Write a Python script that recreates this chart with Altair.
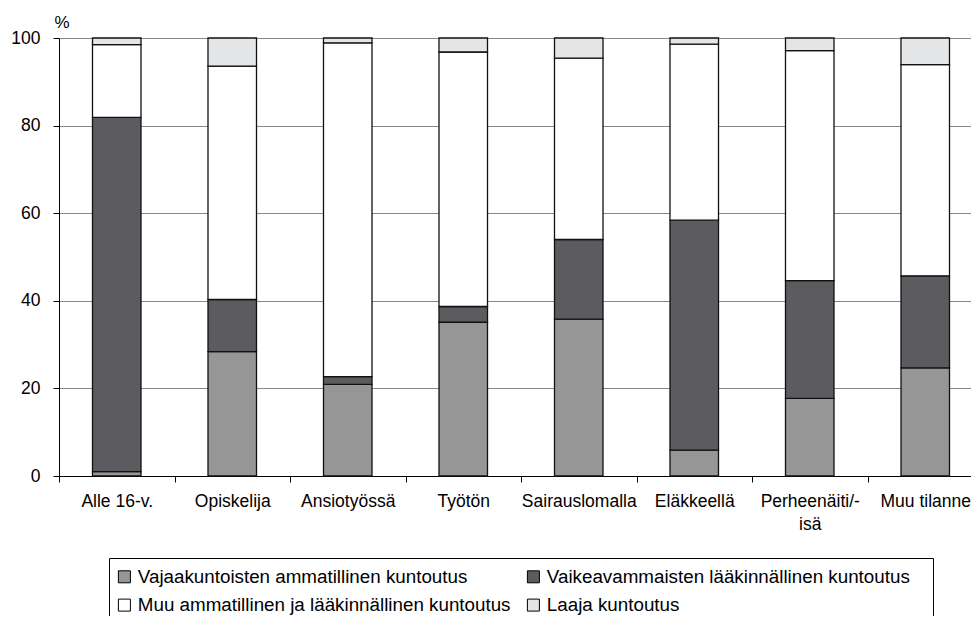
import altair as alt
import pandas as pd

categories = ["Alle 16-v.", "Opiskelija", "Ansiotyössä", "Työtön", "Sairauslomalla",
              "Eläkkeellä", "Perheenäiti/-\nisä", "Muu tilanne"]
series = ["Vajaakuntoisten ammatillinen kuntoutus",
          "Vaikeavammaisten lääkinnällinen kuntoutus",
          "Muu ammatillinen ja lääkinnällinen kuntoutus",
          "Laaja kuntoutus"]
vajaa = [1.0, 28.4, 20.9, 35.1, 35.8, 5.9, 17.7, 24.7]
vaikea = [80.9, 11.9, 1.8, 3.6, 18.2, 52.5, 26.9, 21.0]
muu = [16.6, 53.3, 76.2, 58.1, 41.4, 40.2, 52.5, 48.2]
laaja = [1.5, 6.4, 1.1, 3.2, 4.6, 1.4, 2.9, 6.1]
colors = ["#969696", "#5c5b60", "#ffffff", "#e4e5e7"]
y_ticks = [0, 20, 40, 60, 80, 100]

# legend is laid out column by column: reorder so rows read as in the original
legend_order = [series[0], series[2], series[1], series[3]]
legend_colors = [colors[0], colors[2], colors[1], colors[3]]

rows = []
for si, vals in enumerate([vajaa, vaikea, muu, laaja]):
    for c, v in zip(categories, vals):
        rows.append({"cat": c, "series": series[si], "ord": si, "value": v})
df = pd.DataFrame(rows)

FONT = "Liberation Sans"
# a blank (non-whitespace) glyph after the right-hand labels widens the legend frame
right_col = (f"datum.value == '{series[1]}' ? datum.label + '\u2800' : datum.label")

chart = alt.Chart(df).mark_bar(
    width=alt.RelativeBandSize(0.42), stroke="#111111", strokeWidth=1.3
).encode(
    x=alt.X("cat:N", sort=categories, title=None,
            scale=alt.Scale(paddingInner=0, paddingOuter=0),
            axis=alt.Axis(labelAngle=0, tickBand="extent", labelExpr="split(datum.label, '\\n')",
                          labelFontSize=17.5, labelFont=FONT, labelColor="black",
                          labelPadding=10, labelLineHeight=23, tickSize=6,
                          tickColor="black", domainColor="black", grid=False,
                          labelBaseline="top")),
    y=alt.Y("value:Q", stack="zero",
            scale=alt.Scale(domain=[0, 100], nice=False),
            axis=alt.Axis(values=y_ticks, title="%", titleAngle=0, titleAlign="left",
                          titleX=-5, titleY=-11, titleBaseline="alphabetic",
                          titleFontSize=17, titleFont=FONT, titleFontWeight="normal",
                          titleColor="black",
                          labelFontSize=17.5, labelFont=FONT, labelColor="black",
                          labelPadding=13, tickSize=6, tickColor="black",
                          domainColor="black", gridColor="#888888", gridWidth=1,
                          gridOpacity=1)),
    color=alt.Color("series:N", sort=legend_order,
                    scale=alt.Scale(domain=legend_order, range=legend_colors),
                    legend=alt.Legend(title=None, orient="none", legendX=50, legendY=520,
                                      columns=2, columnPadding=14, rowPadding=8.7,
                                      symbolType="square", symbolSize=144,
                                      symbolStrokeColor="black", symbolStrokeWidth=1,
                                      symbolOpacity=1, symbolOffset=-3, labelOffset=4,
                                      labelFontSize=18.8, labelFont=FONT,
                                      labelColor="black", labelLimit=0,
                                      labelExpr=right_col,
                                      strokeColor="black", padding=9,
                                      fillColor="white")),
    order=alt.Order("ord:Q", sort="ascending"),
).properties(
    width=924, height=438,
    autosize=alt.AutoSizeParams(type="none"),
    padding={"left": 51, "top": 30, "right": -12, "bottom": 140},
).configure_view(stroke=None).configure(background="white")

chart.save("out.html", embed_options={"renderer": "svg", "actions": False})
